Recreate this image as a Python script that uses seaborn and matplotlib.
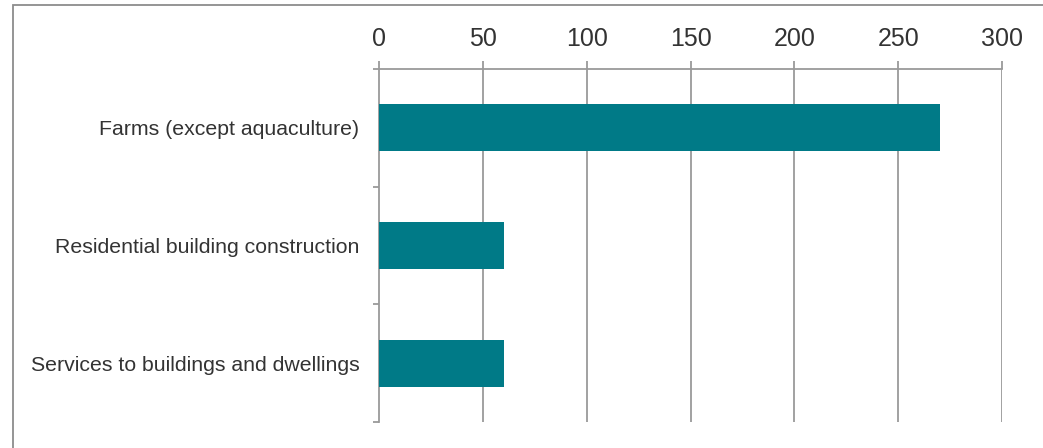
import matplotlib
matplotlib.use("Agg")
import matplotlib.pyplot as plt
from matplotlib.patches import Rectangle
from matplotlib.ticker import FixedLocator
import seaborn as sns
import pandas as pd

industries = [
    "Farms (except aquaculture)",
    "Residential building construction",
    "Services to buildings and dwellings",
]
values = [270, 60, 60]
x_ticks = [0, 50, 100, 150, 200, 250, 300]

sns.set_style("white")
plt.rcParams["font.family"] = ["Liberation Sans", "DejaVu Sans"]

df = pd.DataFrame({"industry": industries, "value": values})

fig = plt.figure(figsize=(10.43, 4.48), dpi=100)
ax = fig.add_axes([379 / 1043, 1 - 422 / 448, (1002 - 379) / 1043, (422 - 69) / 448])

sns.barplot(data=df, x="value", y="industry", orient="h", color="#007A87",
            saturation=1, width=0.4, linewidth=0, ax=ax, zorder=3)

grid_color = "#9a9a9a"
text_color = "#333333"
ax.set_xlim(0, 300)
ax.set_ylim(2.5, -0.5)
ax.set_xticks(x_ticks)
ax.set_xticklabels([str(t) for t in x_ticks])
ax.xaxis.tick_top()
ax.xaxis.set_label_position("top")
ax.set_xlabel("")
ax.set_ylabel("")

for t in x_ticks[1:]:
    ax.axvline(t, color=grid_color, lw=1.3, zorder=1)

for side in ["right", "bottom"]:
    ax.spines[side].set_visible(False)
for side in ["top", "left"]:
    ax.spines[side].set_color(grid_color)
    ax.spines[side].set_linewidth(1.3)

ax.tick_params(axis="x", which="major", direction="out", length=6, width=1.3,
               color=grid_color, pad=7, labelsize=18, labelcolor=text_color)
ax.tick_params(axis="y", which="major", length=0, pad=14, labelsize=15.3,
               labelcolor=text_color)
ax.yaxis.set_minor_locator(FixedLocator([-0.5, 0.5, 1.5, 2.5]))
ax.tick_params(axis="y", which="minor", direction="out", length=4.5, width=1.3,
               color=grid_color, left=True)

# outer frame around the figure
fig.patches.append(Rectangle((13 / 1043, -0.1), 1.2, 1.1 - 5 / 448,
                             transform=fig.transFigure, fill=False,
                             edgecolor="#8c8c8c", lw=1.3, zorder=0))

fig.savefig("out.png", dpi=100)
